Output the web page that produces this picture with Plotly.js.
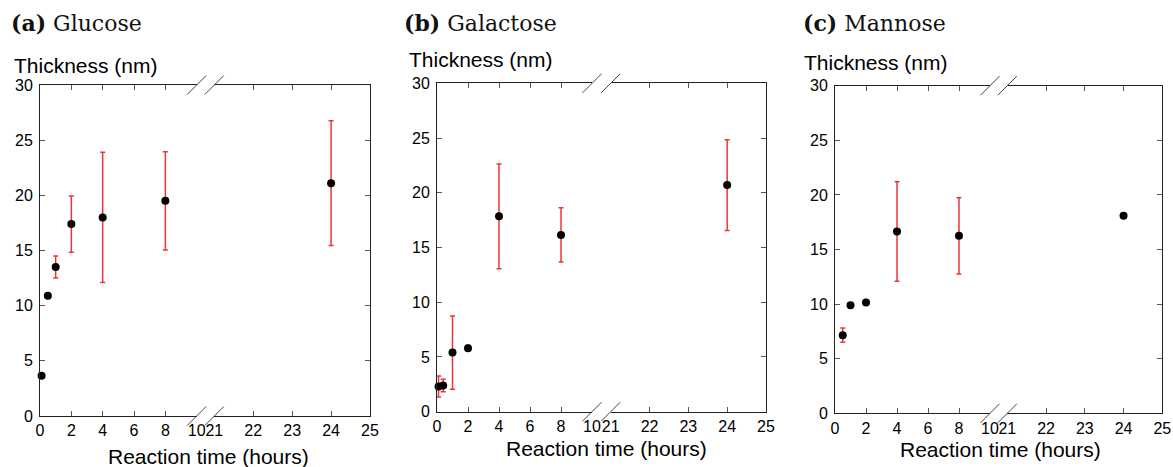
<!DOCTYPE html>
<html><head><meta charset="utf-8">
<script src="https://cdn.plot.ly/plotly-3.0.1.min.js"></script>
<style>html,body{margin:0;padding:0;background:#fff}#chart{width:1173px;height:467px}</style>
</head><body><div id="chart"></div>
<script>
// Panel (a) Glucose
const glucoseTime = [0.1, 0.5, 1, 2, 4, 8, 24];
const glucoseThickness = [3.65, 10.9, 13.5, 17.4, 18.0, 19.5, 21.1];
const glucoseError = [0, 0, 1.0, 2.55, 5.9, 4.45, 5.65];
// Panel (b) Galactose
const galactoseTime = [0.1, 0.4, 1, 2, 4, 8, 24];
const galactoseThickness = [2.3, 2.4, 5.4, 5.8, 17.85, 16.15, 20.7];
const galactoseError = [0.95, 0.57, 3.35, 0.28, 4.78, 2.47, 4.15];
// Panel (c) Mannose
const mannoseTime = [0.5, 1, 2, 4, 8, 24];
const mannoseThickness = [7.15, 9.9, 10.15, 16.65, 16.25, 18.1];
const mannoseError = [0.65, 0, 0, 4.56, 3.5, 0];

const leftTicks = [0, 2, 4, 6, 8, 10];
const rightTicks = [21, 22, 23, 24, 25];
const yTicks = [0, 5, 10, 15, 20, 25, 30];
const panelLetters = ['(a)', '(b)', '(c)'];
const panelNames = ['Glucose', 'Galactose', 'Mannose'];
const yTitle = 'Thickness (nm)';
const xTitle = 'Reaction time (hours)';

const W = 1173, H = 467;
const leftRange = [0, 10], rightRange = [21, 25], yRange = [0, 30];

const datasets = [
  {t: glucoseTime, v: glucoseThickness, e: glucoseError},
  {t: galactoseTime, v: galactoseThickness, e: galactoseError},
  {t: mannoseTime, v: mannoseThickness, e: mannoseError}
];

// pixel geometry of each panel (layout only)
const geom = [
  {l0: 40, l1: 196.7, r0: 214.3, r1: 370, top: 85, bot: 416, tx: 9, ty: 23, ytx: 12, yty: 65.5, xtx: 208, xty: 456},
  {l0: 437, l1: 592, r0: 610.7, r1: 766, top: 83.3, bot: 411.7, tx: 402, ty: 23, ytx: 407, yty: 59.5, xtx: 606.7, xty: 448},
  {l0: 835, l1: 990, r0: 1007.3, r1: 1162.3, top: 85.7, bot: 413.3, tx: 800.5, ty: 23, ytx: 802, yty: 62, xtx: 1000, xty: 449}
];

const traces = [];
const layout = {
  width: W, height: H,
  margin: {l: 0, r: 0, t: 0, b: 0},
  paper_bgcolor: '#fff', plot_bgcolor: 'rgba(0,0,0,0)',
  showlegend: false,
  font: {family: 'Liberation Sans, Arial, sans-serif', color: '#000'},
  annotations: [], shapes: []
};

const axisCommon = {
  showgrid: false, zeroline: false, showline: true, linecolor: '#222', linewidth: 1,
  ticks: 'inside', ticklen: 5, tickcolor: '#555', tickwidth: 1,
  tickfont: {size: 16, color: '#000', family: 'Liberation Sans, Arial, sans-serif'},
  fixedrange: true
};

const errStyle = {type: 'data', visible: true, color: '#ee3535', thickness: 1.5, width: 2.5};
const markerStyle = {color: '#000', size: 8};

datasets.forEach((d, i) => {
  const g = geom[i];
  const nL = 2 * i + 1, nR = 2 * i + 2;
  const xL = 'x' + (nL === 1 ? '' : nL), xR = 'x' + nR;
  const yL = 'y' + (nL === 1 ? '' : nL), yR = 'y' + nR;
  const kxL = 'xaxis' + (nL === 1 ? '' : nL), kxR = 'xaxis' + nR;
  const kyL = 'yaxis' + (nL === 1 ? '' : nL), kyR = 'yaxis' + nR;
  const yDom = [1 - g.bot / H, 1 - g.top / H];

  layout[kxL] = Object.assign({}, axisCommon, {domain: [g.l0 / W, g.l1 / W], range: leftRange, anchor: yL,
    tickvals: leftTicks, ticktext: leftTicks.map(String), mirror: 'ticks'});
  layout[kxR] = Object.assign({}, axisCommon, {domain: [g.r0 / W, g.r1 / W], range: rightRange, anchor: yR,
    tickvals: rightTicks, ticktext: rightTicks.map(String), mirror: 'ticks'});
  layout[kyL] = Object.assign({}, axisCommon, {domain: yDom, range: yRange, anchor: xL, side: 'left',
    tickvals: yTicks, ticktext: yTicks.map(String), ticklabelstandoff: 3});
  layout[kyR] = Object.assign({}, axisCommon, {domain: yDom, range: yRange, anchor: xR, side: 'right',
    tickvals: yTicks, showticklabels: false});

  const idxL = d.t.map((t, k) => k).filter(k => d.t[k] <= leftRange[1]);
  const idxR = d.t.map((t, k) => k).filter(k => d.t[k] >= rightRange[0]);
  [[idxL, xL, yL], [idxR, xR, yR]].forEach(([idx, xa, ya]) => {
    traces.push({
      type: 'scatter', mode: 'markers', xaxis: xa, yaxis: ya, cliponaxis: false,
      x: idx.map(k => d.t[k]), y: idx.map(k => d.v[k]),
      error_y: Object.assign({}, errStyle, {array: idx.map(k => d.e[k])}),
      marker: markerStyle, hoverinfo: 'x+y'
    });
  });

  // axis break slashes at the inner ends of the two x segments (paper refs, not clipped)
  [g.l1 / W, g.r0 / W].forEach(xp => {
    yDom.forEach(yp => {
      layout.shapes.push({type: 'line', xref: 'paper', yref: 'paper', xsizemode: 'pixel', ysizemode: 'pixel',
        xanchor: xp, yanchor: yp, x0: -9.5, x1: 9.5, y0: -9.5, y1: 9.5,
        line: {color: '#444', width: 1}});
    });
  });

  layout.annotations.push({xref: 'paper', yref: 'paper', x: g.tx / W, y: 1 - g.ty / H, xanchor: 'left', yanchor: 'middle',
    showarrow: false, text: '<b>' + panelLetters[i] + '</b> ' + panelNames[i],
    font: {family: 'DejaVu Serif, serif', size: 22, color: '#111'}});
  layout.annotations.push({xref: 'paper', yref: 'paper', x: g.ytx / W, y: 1 - g.yty / H, xanchor: 'left', yanchor: 'middle',
    showarrow: false, text: yTitle, font: {size: 21, color: '#000'}});
  layout.annotations.push({xref: 'paper', yref: 'paper', x: g.xtx / W, y: 1 - g.xty / H, xanchor: 'center', yanchor: 'middle',
    showarrow: false, text: xTitle, font: {size: 21, color: '#000'}});
});

Plotly.newPlot('chart', traces, layout, {displayModeBar: false, staticPlot: true});
</script></body></html>
